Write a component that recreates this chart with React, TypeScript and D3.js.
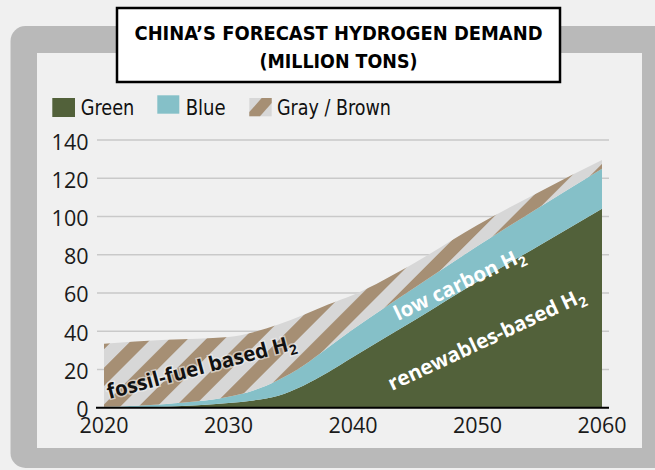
import React from "react";
import * as d3 from "d3";

const years = [2020, 2025, 2030, 2032, 2034, 2036, 2038, 2040, 2045, 2050, 2055, 2060];
const green = [0, 0.5, 2.4, 3.8, 6.3, 11.5, 18.5, 26.5, 46, 66, 85, 104];
const blue = [0.5, 1.5, 3.3, 5.2, 8.2, 10.5, 13, 14.5, 17, 18.5, 20, 21];
const grayBrown = [33, 33.5, 31.3, 30.5, 29, 26.5, 22.5, 18, 13, 11, 8, 4.5];
const yTicks = [0, 20, 40, 60, 80, 100, 120, 140];
const xTicks = [2020, 2030, 2040, 2050, 2060];
const titleLines = ["CHINA\u2019S FORECAST HYDROGEN DEMAND", "(MILLION TONS)"];
const legendItems = ["Green", "Blue", "Gray / Brown"];

const W = 655;
const H = 470;
const COND = "'Liberation Sans Narrow', 'DejaVu Sans Condensed', 'Roboto Condensed', sans-serif";
const TICKF = "'Open Sans', 'DejaVu Sans', sans-serif";

const C_GREEN = "#52613a";
const C_BLUE = "#85c0c8";
const C_BROWN = "#a68f74";
const C_LGRAY = "#d7d7d7";

export default function App() {
  const x = d3.scaleLinear().domain([2020, 2060]).range([104, 602]);
  const y = d3.scaleLinear().domain([0, 140]).range([407.7, 140]);

  const rows = years.map((yr, i) => ({ year: yr, green: green[i], blue: blue[i], gray: grayBrown[i] }));
  const stack = d3.stack<any>().keys(["green", "blue", "gray"]);
  const series = stack(rows);
  const area = d3
    .area<any>()
    .x((d) => x(d.data.year))
    .y0((d) => y(d[0]))
    .y1((d) => y(d[1]))
    .curve(d3.curveMonotoneX);
  const fills = [C_GREEN, C_BLUE, "url(#hatch)"];

  return (
    <div style={{ position: "absolute", left: 0, top: 0 }}>
      <svg width={W} height={H} style={{ display: "block" }}>
        <defs>
          <pattern id="hatch" patternUnits="userSpaceOnUse" width={26} height={26} patternTransform="translate(104,0) rotate(45)">
            <rect x={0} y={0} width={26} height={26} fill={C_LGRAY} />
            <rect x={0} y={0} width={13} height={26} fill={C_BROWN} />
          </pattern>
        </defs>
        <rect x={0} y={0} width={W} height={H} fill="#f0f0f0" />
        <rect x={10.5} y={26} width={720} height={442} rx={15} fill="#b9b9b9" />
        <rect x={37} y={53} width={605} height={395} fill="#f0f0f0" />

        {/* title */}
        <rect x={117} y={8} width={443} height={74} fill="#ffffff" stroke="#000" strokeWidth={2.5} />
        <text x={338.5} y={39.5} textAnchor="middle" fontFamily={COND} fontWeight={700} fontSize={20} fill="#000" textLength={408} lengthAdjust="spacingAndGlyphs">
          {titleLines[0]}
        </text>
        <text x={338.5} y={67.5} textAnchor="middle" fontFamily={COND} fontWeight={700} fontSize={20} fill="#000" textLength={158} lengthAdjust="spacingAndGlyphs">
          {titleLines[1]}
        </text>

        {/* legend */}
        <rect x={52.3} y={98} width={22.7} height={19} fill={C_GREEN} />
        <text x={80.7} y={114.7} fontFamily={COND} fontSize={22} fill="#111" textLength={53.6} lengthAdjust="spacingAndGlyphs">{legendItems[0]}</text>
        <rect x={157.3} y={95.3} width={22} height={18.4} fill={C_BLUE} />
        <text x={185.7} y={114.7} fontFamily={COND} fontSize={22} fill="#111" textLength={40} lengthAdjust="spacingAndGlyphs">{legendItems[1]}</text>
        <rect x={249.3} y={98} width={22.4} height={18.3} fill={C_LGRAY} />
        <polygon points="249.3,112 261.7,98 271.7,98 271.7,103 260,116.3 249.3,116.3" fill={C_BROWN} />
        <text x={277} y={114.7} fontFamily={COND} fontSize={22} fill="#111" textLength={114} lengthAdjust="spacingAndGlyphs">{legendItems[2]}</text>

        {/* grid */}
        {yTicks.filter((t) => t > 0).map((t) => (
          <line key={t} x1={97} x2={609} y1={y(t)} y2={y(t)} stroke="#c9c9c9" strokeWidth={1.5} />
        ))}

        {/* areas */}
        {series.map((s, i) => (
          <path key={s.key} d={area(s) || ""} fill={fills[i]} />
        ))}

        {/* baseline */}
        <line x1={96} x2={609} y1={y(0)} y2={y(0)} stroke="#000" strokeWidth={2} />

        {/* y labels */}
        {yTicks.map((t) => (
          <text key={t} x={88.5} y={y(t) + 1} textAnchor="end" dominantBaseline="central" fontFamily={TICKF} fontSize={21.5} fill="#1a1a1a">
            {t}
          </text>
        ))}
        {/* x labels */}
        {xTicks.map((t) => (
          <text key={t} x={x(t)} y={432.5} textAnchor="middle" fontFamily={TICKF} fontSize={21.5} fill="#1a1a1a">
            {t}
          </text>
        ))}

        {/* area labels */}
        <text transform="translate(109,399) rotate(-15)" fontFamily={TICKF} fontWeight={700} fontSize={20.5} fill="#111" stroke="#f0f0f0" strokeWidth={3} strokeOpacity={0.6} style={{ paintOrder: "stroke" }}>
          fossil-fuel based H<tspan dy={5} fontSize={14}>2</tspan>
        </text>
        <text transform="translate(398,321) rotate(-25.5)" fontFamily={TICKF} fontWeight={700} fontSize={20.5} fill="#ffffff">
          low carbon H<tspan dy={5} fontSize={14}>2</tspan>
        </text>
        <text transform="translate(392,391) rotate(-25)" fontFamily={TICKF} fontWeight={700} fontSize={20.5} fill="#ffffff">
          renewables-based H<tspan dy={5} fontSize={14}>2</tspan>
        </text>
      </svg>
    </div>
  );
}
